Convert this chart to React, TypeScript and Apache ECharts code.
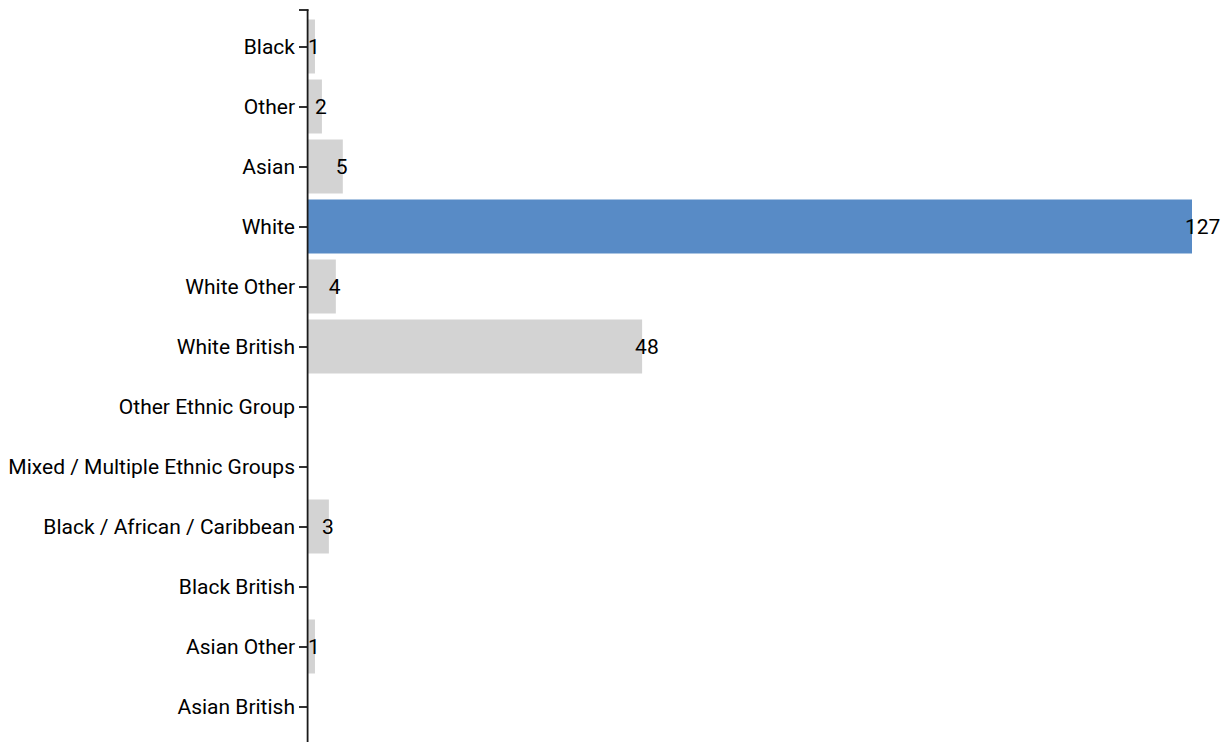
import React, { useEffect, useRef } from "react";
import * as echarts from "echarts";

const categories: string[] = [
  "Black",
  "Other",
  "Asian",
  "White",
  "White Other",
  "White British",
  "Other Ethnic Group",
  "Mixed / Multiple Ethnic Groups",
  "Black / African / Caribbean",
  "Black British",
  "Asian Other",
  "Asian British",
];
const counts: number[] = [1, 2, 5, 127, 4, 48, 0, 0, 3, 0, 1, 0];
const highlighted: string = "White";

const GREY = "#d3d3d3";
const BLUE = "#588bc6";
const AXIS = "#1a1a1a";

export default function App() {
  const ref = useRef<HTMLDivElement>(null);
  useEffect(() => {
    if (!ref.current) return;
    const chart = echarts.init(ref.current, null, { renderer: "svg" });
    const data = counts.map((v, i) => ({
      value: v,
      itemStyle: { color: categories[i] === highlighted ? BLUE : GREY },
    }));
    chart.setOption({
      animation: false,
      textStyle: { fontFamily: "Roboto" },
      grid: { left: 308, top: 16.5, height: 720, right: 36, containLabel: false },
      xAxis: {
        type: "value",
        min: 0,
        max: "dataMax",
        show: false,
        splitLine: { show: false },
      },
      yAxis: {
        type: "category",
        data: categories,
        inverse: true,
        axisLine: { show: false },
        axisTick: { show: true, length: 9, alignWithLabel: true, lineStyle: { color: AXIS, width: 1.8 } },
        axisLabel: { color: "#000", fontSize: 21, fontFamily: "Roboto", margin: 13 },
        splitLine: { show: false },
      },
      graphic: [
        {
          type: "line",
          shape: { x1: 307.6, y1: 9.5, x2: 307.6, y2: 742 },
          style: { stroke: AXIS, lineWidth: 1.8 },
          z: 10,
        },
        {
          type: "line",
          shape: { x1: 299, y1: 10, x2: 308.5, y2: 10 },
          style: { stroke: AXIS, lineWidth: 1.8 },
          z: 10,
        },
      ],
      series: [
        {
          type: "bar",
          data,
          barWidth: "90%",
          label: {
            show: true,
            position: "right",
            distance: 0,
            offset: [-7, 0],
            color: "#000",
            fontSize: 21,
            fontFamily: "Roboto",
            formatter: (p: any) => (p.value ? String(p.value) : ""),
          },
        },
      ],
    });
    return () => chart.dispose();
  }, []);
  return (
    <div
      ref={ref}
      style={{ position: "fixed", left: 0, top: 0, width: 1228, height: 742, background: "#fff" }}
    />
  );
}
